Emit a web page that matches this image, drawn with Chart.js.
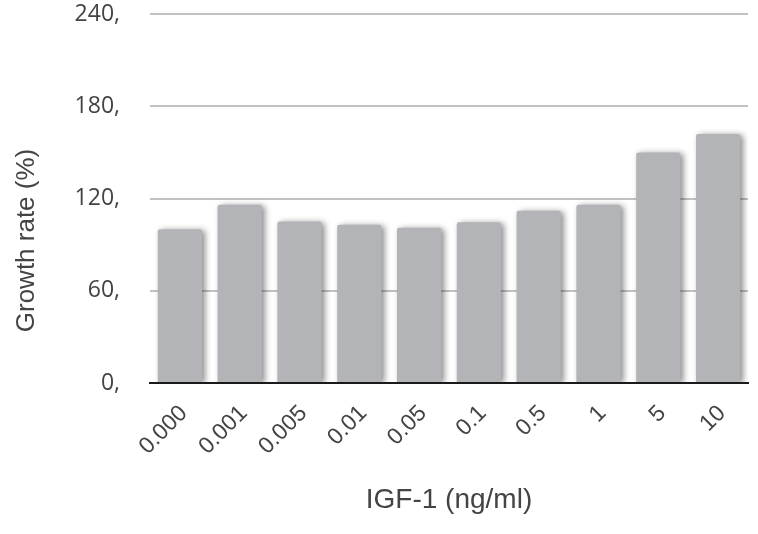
<!DOCTYPE html>
<html>
<head>
<meta charset="utf-8">
<script src="https://cdn.jsdelivr.net/npm/chart.js@4/dist/chart.umd.min.js"></script>
<style>
html,body{margin:0;padding:0;background:#fff;}
#wrap{width:758px;height:534px;position:relative;}
</style>
</head>
<body>
<div id="wrap"><canvas id="c" width="758" height="534"></canvas></div>
<script>
const categories = ["0.000","0.001","0.005","0.01","0.05","0.1","0.5","1","5","10"];
const growthRate = [100, 116, 105, 103, 101, 104.5, 112, 116, 150, 162];
const yTicks = [0, 60, 120, 180, 240];
const yTickLabels = ["0,", "60,", "120,", "180,", "240,"];
const xTitle = "IGF-1 (ng/ml)";
const yTitle = "Growth rate (%)";

const shadowPlugin = {
  id: 'barShadow',
  beforeDatasetsDraw(chart) {
    const ctx = chart.ctx;
    ctx.save();
    ctx.shadowColor = 'rgba(0,0,0,0.45)';
    ctx.shadowBlur = 6;
    ctx.shadowOffsetX = 3;
    ctx.shadowOffsetY = 1;
  },
  afterDatasetsDraw(chart) {
    chart.ctx.restore();
  }
};

// y-axis title drawn a little below the plot centre, as in the reference
const yTitlePlugin = {
  id: 'yTitle',
  afterDraw(chart) {
    const ctx = chart.ctx;
    const a = chart.chartArea;
    ctx.save();
    ctx.translate(27, (a.top + a.bottom) / 2 + 42);
    ctx.rotate(-Math.PI / 2);
    ctx.font = '26px "Liberation Sans"';
    ctx.fillStyle = '#444';
    ctx.textAlign = 'center';
    ctx.textBaseline = 'middle';
    ctx.fillText(yTitle, 0, 0);
    ctx.restore();
  }
};

new Chart(document.getElementById('c'), {
  type: 'bar',
  data: {
    labels: categories,
    datasets: [{
      data: growthRate,
      backgroundColor: '#b3b4b7',
      borderWidth: 0,
      borderRadius: {topLeft: 2, topRight: 2, bottomLeft: 0, bottomRight: 0},
      borderSkipped: false,
      barPercentage: 0.74,
      categoryPercentage: 1.0
    }]
  },
  plugins: [shadowPlugin, yTitlePlugin],
  options: {
    responsive: false,
    animation: false,
    layout: { padding: { top: 14, right: 10, left: 0, bottom: 0 } },
    plugins: { legend: { display: false }, tooltip: { enabled: false } },
    scales: {
      x: {
        grid: { display: false, drawTicks: false },
        border: { display: true, color: '#1a1a1a', width: 2, z: 1 },
        ticks: {
          color: '#444',
          font: { family: 'Liberation Sans', size: 23 },
          maxRotation: 45, minRotation: 45,
          padding: 17,
          labelOffset: 4,
          autoSkip: false
        },
        title: {
          display: true, text: xTitle, color: '#444',
          font: { family: 'Liberation Sans', size: 28 },
          padding: { top: 0, bottom: 17 }
        },
        afterFit(scale) {
          scale.height = 151;
          scale.paddingLeft = 0; scale.paddingRight = 0;
          scale.paddingTop = 0; scale.paddingBottom = 0;
        }
      },
      y: {
        min: 0, max: 240,
        afterBuildTicks(scale) { scale.ticks = yTicks.map(v => ({ value: v })); },
        grid: { color: '#c2c2c2', lineWidth: 2, drawTicks: false },
        border: { display: false },
        ticks: {
          color: '#444',
          font: { family: 'Open Sans', size: 23 },
          padding: 30,
          callback(value) { const i = yTicks.indexOf(value); return i >= 0 ? yTickLabels[i] : ''; }
        },
        title: { display: false },
        afterFit(scale) {
          scale.width = 150;
          scale.paddingTop = 0; scale.paddingBottom = 0;
        }
      }
    }
  }
});
</script>
</body>
</html>
